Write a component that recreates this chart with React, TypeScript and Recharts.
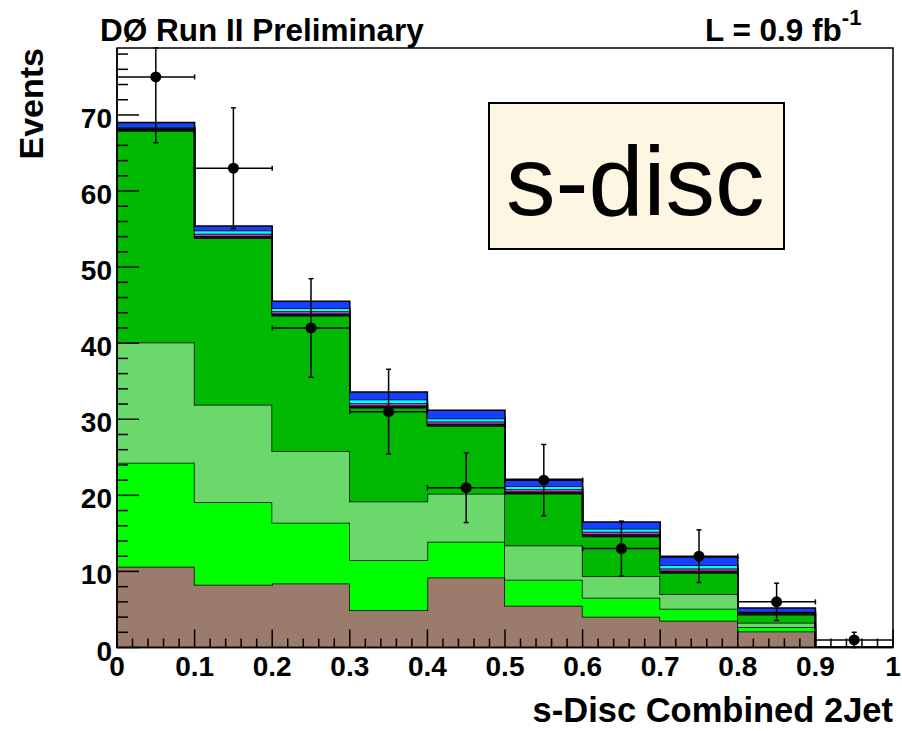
import React from 'react';
import { ComposedChart, Area, Scatter, ErrorBar, XAxis, YAxis, ReferenceArea } from 'recharts';

// Bin lower edges (last entry closes the histogram at 1.0)
const binEdges = [0, 0.1, 0.2, 0.3, 0.4, 0.5, 0.6, 0.7, 0.8, 0.9, 1.0];
const binCenters = [0.05, 0.15, 0.25, 0.35, 0.45, 0.55, 0.65, 0.75, 0.85, 0.95];

// Stacked background contributions per bin (bottom to top)
const brownBkg = [10.6, 8.25, 8.4, 4.9, 9.2, 5.5, 4.05, 3.5, 2.1, 0];
const brightGreenBkg = [13.7, 10.85, 8.0, 6.6, 4.7, 3.4, 2.5, 1.6, 0.55, 0];
const lightGreenBkg = [15.8, 12.8, 9.4, 7.7, 6.3, 4.5, 2.85, 1.9, 0.6, 0];
const darkGreenBkg = [27.8, 21.9, 17.8, 12.3, 8.9, 6.8, 5.2, 2.8, 1.05, 0];
const blackBkg = [0.3, 0.3, 0.3, 0.3, 0.3, 0.3, 0.3, 0.3, 0.3, 0];
const magentaBkg = [0.1, 0.3, 0.3, 0.3, 0.3, 0.3, 0.3, 0.3, 0.05, 0];
const cyanBkg = [0.1, 0.4, 0.4, 0.5, 0.4, 0.4, 0.4, 0.4, 0.05, 0];
const blueBkg = [0.6, 0.6, 0.9, 1.0, 1.1, 0.9, 0.9, 1.1, 0.5, 0];

// Observed data
const dataCounts = [75, 63, 42, 31, 21, 22, 13, 12, 6, 1];
const dataErrY = [8.66, 7.94, 6.48, 5.57, 4.58, 4.69, 3.61, 3.46, 2.45, 1.0];
const dataErrX = [0.05, 0.05, 0.05, 0.05, 0.05, 0.05, 0.05, 0.05, 0.05, 0.05];

// Axis ticks
const yTicks = Array.from({ length: 40 }, (_, i) => i * 2);
const yTickLabels = ['0', '10', '20', '30', '40', '50', '60', '70'];
const xTicks = Array.from({ length: 51 }, (_, i) => i / 50);
const xTickLabels = ['0', '0.1', '0.2', '0.3', '0.4', '0.5', '0.6', '0.7', '0.8', '0.9', '1'];

const Y_MAX = 78.8;
const FONT = "'Liberation Sans', Arial, Helvetica, sans-serif";

const histData = binEdges.map((x, i) => {
  const k = Math.min(i, 9);
  return {
    x,
    brown: brownBkg[k],
    bright: brightGreenBkg[k],
    light: lightGreenBkg[k],
    dark: darkGreenBkg[k],
    blk: blackBkg[k],
    mag: magentaBkg[k],
    cyan: cyanBkg[k],
    blue: blueBkg[k],
  };
});

// error bars are clipped at the top of the frame, as in the reference
const pointData = binCenters.map((x, i) => ({
  x,
  count: dataCounts[i],
  errY: [dataErrY[i], Math.min(dataErrY[i], Y_MAX - dataCounts[i])],
  errX: dataErrX[i],
}));

const layers = [
  { key: 'brown', color: '#9b7b6b' },
  { key: 'bright', color: '#00ff00' },
  { key: 'light', color: '#6ad86a' },
  { key: 'dark', color: '#00b900' },
  { key: 'blk', color: '#111111' },
  { key: 'mag', color: '#c23cc2' },
  { key: 'cyan', color: '#00ffff' },
  { key: 'blue', color: '#1440ff' },
];

const YTick = (props: any) => {
  const { x, y, payload } = props;
  const v = Math.round(payload.value);
  const major = v % 10 === 0;
  return (
    <g>
      <line x1={x} x2={x + (major ? 22 : 11)} y1={y} y2={y} stroke="#000" strokeWidth={1.5} />
      {major && (
        <text x={x - 5} y={y + 13} textAnchor="end" fontSize={28} fontWeight="bold" fontFamily={FONT} fill="#000">
          {yTickLabels[v / 10]}
        </text>
      )}
    </g>
  );
};

const XTick = (props: any) => {
  const { x, y, payload } = props;
  const k = Math.round(payload.value * 50);
  const major = k % 5 === 0;
  return (
    <g>
      <line x1={x} x2={x} y1={y} y2={y - (major ? 18 : 9)} stroke="#000" strokeWidth={1.5} />
      {major && (
        <text x={x} y={y + 28} textAnchor="middle" fontSize={28} fontWeight="bold" fontFamily={FONT} fill="#000">
          {xTickLabels[k / 5]}
        </text>
      )}
    </g>
  );
};

const Dot = (props: any) => {
  const { cx, cy } = props;
  return <circle cx={cx} cy={cy} r={5.5} fill="#000" />;
};

export default function App() {
  return (
    <div style={{ position: 'absolute', left: 0, top: 0, width: 902, height: 731, background: '#fff' }}>
      <ComposedChart
        width={902}
        height={731}
        data={histData}
        margin={{ top: 48, right: 9, bottom: 43.5, left: 57 }}
      >
        {layers.map((l) => (
          <Area
            key={l.key}
            dataKey={l.key}
            stackId="h"
            type="stepAfter"
            fill={l.color}
            fillOpacity={1}
            stroke="#000"
            strokeWidth={1.5}
            dot={false}
            activeDot={false}
            isAnimationActive={false}
          />
        ))}
        <ReferenceArea x1={0} x2={1} y1={0} y2={Y_MAX} fill="none" stroke="#000" strokeWidth={1.5} ifOverflow="visible" />
        <XAxis
          dataKey="x"
          type="number"
          domain={[0, 1]}
          allowDataOverflow
          ticks={xTicks}
          interval={0}
          tickSize={0}
          tickMargin={0}
          tick={(p: any) => <XTick {...p} />}
          height={40}
          stroke="#000"
          axisLine={{ stroke: '#000', strokeWidth: 1.5 }}
        />
        <YAxis
          type="number"
          domain={[0, Y_MAX]}
          allowDataOverflow
          ticks={yTicks}
          interval={0}
          tickSize={0}
          tickMargin={0}
          tick={(p: any) => <YTick {...p} />}
          width={60}
          axisLine={{ stroke: '#000', strokeWidth: 1.5 }}
        />
        <Scatter data={pointData} dataKey="count" fill="#000" shape={(p: any) => <Dot {...p} />} isAnimationActive={false}>
          <ErrorBar dataKey="errY" direction="y" width={2.5} stroke="#000" strokeWidth={1.5} />
          <ErrorBar dataKey="errX" direction="x" width={2.5} stroke="#000" strokeWidth={1.5} />
        </Scatter>
      </ComposedChart>
      <svg
        width={902}
        height={731}
        style={{ position: 'absolute', left: 0, top: 0, pointerEvents: 'none' }}
      >
        <text x={100} y={41} fontSize={31.5} fontWeight="bold" fontFamily={FONT} fill="#000">
          DØ Run II Preliminary
        </text>
        <text x={705} y={41} fontSize={31.5} fontWeight="bold" fontFamily={FONT} fill="#000">
          L = 0.9 fb
          <tspan fontSize={22} dy={-16}>-1</tspan>
        </text>
        <text
          transform="translate(43,48) rotate(-90)"
          textAnchor="end"
          fontSize={34}
          fontWeight="bold"
          fontFamily={FONT}
          fill="#000"
        >
          Events
        </text>
        <text x={893} y={722} textAnchor="end" fontSize={34.5} fontWeight="bold" fontFamily={FONT} fill="#000">
          s-Disc Combined 2Jet
        </text>
        <rect x={489} y={103} width={295} height={146} fill="#fdf6e3" stroke="#000" strokeWidth={2} />
        <text x={506} y={215} fontSize={99} fontFamily={FONT} fill="#000">
          s-disc
        </text>
      </svg>
    </div>
  );
}
